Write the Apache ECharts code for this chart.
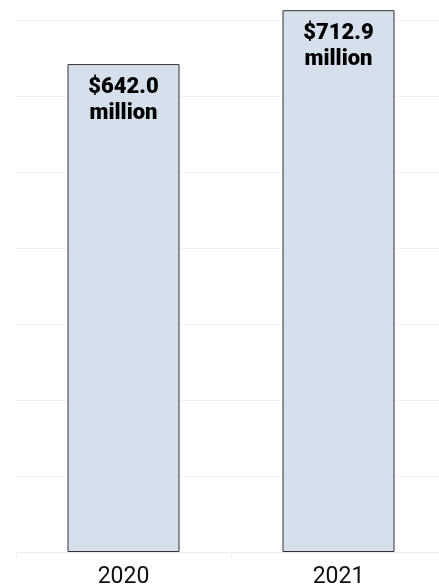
<!DOCTYPE html>
<html>
<head>
<meta charset="utf-8">
<script src="https://cdn.jsdelivr.net/npm/echarts@6/dist/echarts.min.js"></script>
<style>
html,body{margin:0;padding:0;background:#fff;}
#chart{width:439px;height:587px;}
</style>
</head>
<body>
<div id="chart"></div>
<script>
const categories = ['2020', '2021'];
const values = [642.0, 712.9];
const labelTexts = ['$642.0\nmillion', '$712.9\nmillion'];

const chart = echarts.init(document.getElementById('chart'), null, {renderer: 'canvas'});
chart.setOption({
  animation: false,
  grid: {left: 16, width: 430, top: 20, bottom: 35, containLabel: false, outerBoundsMode: 'none'},
  xAxis: {
    type: 'category',
    data: categories,
    axisLine: {show: true, lineStyle: {color: '#eeeeee', width: 1}},
    axisTick: {show: true, length: 4, lineStyle: {color: '#eeeeee'}},
    axisLabel: {color: '#111111', fontFamily: 'Roboto', fontSize: 23, margin: 14}
  },
  yAxis: {
    type: 'value',
    min: 0, max: 700, interval: 100,
    axisLabel: {show: false},
    axisLine: {show: false},
    axisTick: {show: false},
    splitLine: {lineStyle: {color: '#f2f2f2', width: 1}}
  },
  series: [{
    type: 'bar',
    clip: false,
    barWidth: 112,
    data: values,
    itemStyle: {color: '#d6e0ec', borderColor: '#333333', borderWidth: 1},
    label: {
      show: true,
      position: 'insideTop',
      distance: 10,
      formatter: p => labelTexts[p.dataIndex],
      color: '#000000',
      fontFamily: 'Roboto',
      fontWeight: 900,
      fontSize: 22,
      lineHeight: 26
    }
  }]
});
</script>
</body>
</html>
